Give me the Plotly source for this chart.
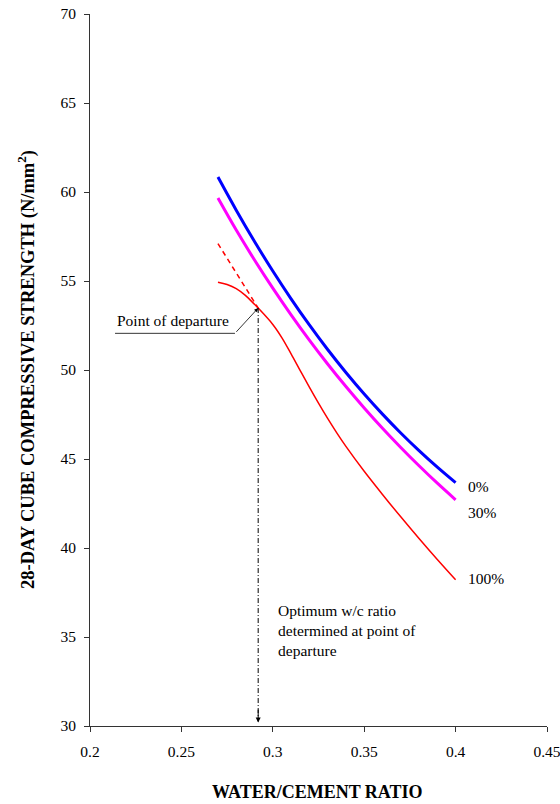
import plotly.graph_objects as go

# ---- data ----
wc_ratio = [0.27, 0.28, 0.29, 0.30, 0.31, 0.32, 0.33, 0.34, 0.35, 0.36, 0.37, 0.38, 0.39, 0.40]
strength_0pct = [60.84, 58.98, 57.22, 55.56, 54.00, 52.53, 51.15, 49.86, 48.65, 47.52, 46.46, 45.47, 44.54, 43.67]
strength_30pct = [59.66, 57.86, 56.18, 54.60, 53.10, 51.68, 50.34, 49.07, 47.87, 46.73, 45.65, 44.62, 43.64, 42.71]

wc_ratio_100 = [0.27, 0.275, 0.28, 0.285, 0.29, 0.292, 0.30, 0.305, 0.31, 0.315, 0.32, 0.325,
                0.33, 0.335, 0.34, 0.35, 0.36, 0.37, 0.38, 0.39, 0.40]
strength_100pct = [54.93, 54.80, 54.57, 54.19, 53.69, 53.48, 52.56, 51.81, 50.91, 49.97, 49.04, 48.14,
                   47.28, 46.47, 45.71, 44.31, 43.01, 41.75, 40.53, 39.35, 38.21]

extrap_x = [0.27, 0.292]
extrap_y = [57.1, 53.48]

departure_x = 0.292
departure_y = 53.48

series_labels = ["0%", "30%", "100%"]
label_y = [43.43, 42.02, 38.31]

x_ticks = [0.2, 0.25, 0.3, 0.35, 0.4, 0.45]
x_tick_text = ["0.2", "0.25", "0.3", "0.35", "0.4", "0.45"]
y_ticks = [30, 35, 40, 45, 50, 55, 60, 65, 70]

FONT = "Liberation Serif"
TXT = 15.5

fig = go.Figure()
fig.add_trace(go.Scatter(x=wc_ratio, y=strength_0pct, mode="lines", line=dict(color="#0000FF", width=3, shape="spline")))
fig.add_trace(go.Scatter(x=wc_ratio, y=strength_30pct, mode="lines", line=dict(color="#FF00FF", width=3, shape="spline")))
fig.add_trace(go.Scatter(x=wc_ratio_100, y=strength_100pct, mode="lines", line=dict(color="#FF0000", width=1.5, shape="spline")))
fig.add_trace(go.Scatter(x=extrap_x, y=extrap_y, mode="lines", line=dict(color="#FF0000", width=1.5, dash="5px,4px")))

# vertical dash-dot line from the point of departure down to the x axis
fig.add_trace(go.Scatter(x=[departure_x, departure_x], y=[departure_y, 30.25], mode="lines",
                         line=dict(color="black", width=1, dash="5px,2px,1px,2px")))

annotations = []
# arrowhead at the bottom
annotations.append(dict(x=departure_x, y=30.2, ax=departure_x, ay=31.0, xref="x", yref="y", axref="x", ayref="y",
                        showarrow=True, arrowhead=2, arrowsize=1, arrowwidth=1, arrowcolor="black", text=""))
# callout for point of departure
annotations.append(dict(x=departure_x, y=departure_y, ax=0.2793, ay=52.06, xref="x", yref="y", axref="x", ayref="y",
                        showarrow=True, arrowhead=2, arrowsize=1, arrowwidth=0.8, arrowcolor="black", text="", standoff=0))
annotations.append(dict(x=0.2137, y=52.80, xref="x", yref="y", text="Point of departure", showarrow=False,
                        xanchor="left", yanchor="middle", font=dict(family=FONT, size=TXT, color="black")))
annotations.append(dict(x=0.3017, y=35.34, xref="x", yref="y",
                        text="Optimum w/c ratio<br>determined at point of<br>departure",
                        showarrow=False, xanchor="left", yanchor="middle", align="left",
                        font=dict(family=FONT, size=TXT, color="black")))
for lab, ly in zip(series_labels, label_y):
    annotations.append(dict(x=0.4057, y=ly, xref="x", yref="y", text=lab, showarrow=False,
                            xanchor="left", yanchor="middle", font=dict(family=FONT, size=TXT, color="black")))
# axis titles
annotations.append(dict(x=0.497, y=-0.0923, xref="paper", yref="paper", text="<b>WATER/CEMENT RATIO</b>",
                        showarrow=False, xanchor="center", yanchor="middle", font=dict(family=FONT, size=18, color="black")))
annotations.append(dict(x=-0.14, y=0.5, xref="paper", yref="paper",
                        text="<b>28-DAY CUBE COMPRESSIVE STRENGTH (N/mm<sup>2</sup>)</b>",
                        showarrow=False, textangle=-90, xanchor="center", yanchor="middle",
                        font=dict(family=FONT, size=18.5, color="black")))

shapes = [dict(type="line", xref="x", yref="y", x0=0.2137, x1=0.2793, y0=52.06, y1=52.06,
               line=dict(color="black", width=0.8))]

fig.update_layout(
    width=560, height=804,
    margin=dict(l=90, r=13, t=14, b=78, autoexpand=False),
    plot_bgcolor="white", paper_bgcolor="white",
    showlegend=False,
    annotations=annotations,
    shapes=shapes,
    font=dict(family=FONT, size=TXT, color="black"),
    xaxis=dict(range=[0.2, 0.45], tickvals=x_ticks, ticktext=x_tick_text, showgrid=False, zeroline=False,
               automargin=False, ticklabeloverflow="allow",
               showline=True, linecolor="#333333", linewidth=1, ticks="outside", ticklen=5, tickcolor="#333333",
               tickfont=dict(family=FONT, size=TXT, color="black"), ticklabelstandoff=6),
    yaxis=dict(range=[30, 70], tickvals=y_ticks, showgrid=False, zeroline=False, automargin=False,
               ticklabeloverflow="allow",
               showline=True, linecolor="#333333", linewidth=1, ticks="outside", ticklen=5, tickcolor="#333333",
               tickfont=dict(family=FONT, size=TXT, color="black"), ticklabelstandoff=5),
)

# remove the browser's default 8px page margin so the figure fills the window exactly
fig.write_html("out.html", config={"displayModeBar": False},
               post_script="document.body.style.margin='0';document.body.style.overflow='hidden';")
